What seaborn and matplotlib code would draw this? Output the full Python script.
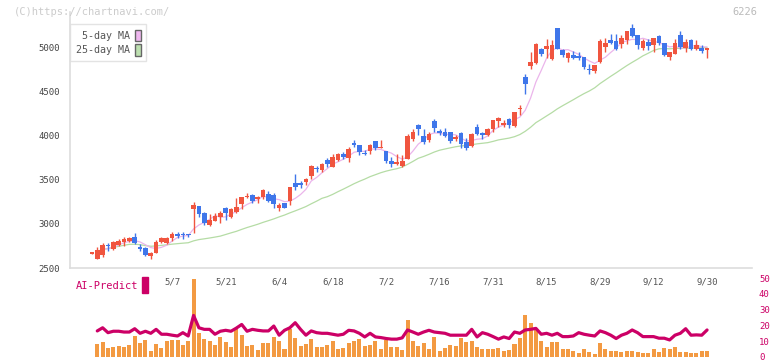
"""Candlestick chart with 5/25-day moving averages and an AI-Predict panel."""

import matplotlib

matplotlib.use("Agg")
import matplotlib.pyplot as plt
from matplotlib.patches import Patch, Rectangle
import numpy as np
import pandas as pd
import seaborn as sns

# ---------------------------------------------------------------------------
# Data
# ---------------------------------------------------------------------------
OPEN = [2662, 2605, 2647, 2760, 2720, 2760, 2790, 2805, 2847, 2737,
        2723, 2635, 2673, 2797, 2780, 2843, 2881, 2885, 2885, 3171,
        3205, 3126, 2986, 3031, 3082, 3175, 3082, 3137, 3224, 3300,
        3326, 3280, 3300, 3337, 3322, 3183, 3232, 3262, 3458, 3458,
        3476, 3537, 3635, 3608, 3729, 3646, 3729, 3797, 3748, 3914,
        3891, 3805, 3827, 3937, 3854, 3827, 3714, 3676, 3654, 3740,
        3956, 4117, 3993, 3948, 4163, 4050, 4035, 4035, 3956, 4027,
        3922, 3880, 4099, 4031, 4004, 4080, 4167, 4125, 4185, 4106,
        4304, 4660, 4790, 4823, 4985, 4985, 4864, 5215, 4974, 4883,
        4910, 4905, 4891, 4759, 4728, 4834, 5004, 5079, 5068, 5041,
        5079, 5215, 5136, 4996, 5060, 5022, 5124, 5049, 4891, 4921,
        5136, 4996, 5079, 4985, 4992, 4974]
HIGH = [2668, 2734, 2780, 2780, 2805, 2828, 2847, 2851, 2892, 2767,
        2734, 2681, 2817, 2851, 2855, 2907, 2911, 2911, 2890, 3246,
        3205, 3137, 3111, 3126, 3141, 3194, 3175, 3288, 3307, 3352,
        3337, 3314, 3394, 3371, 3345, 3232, 3232, 3420, 3563, 3484,
        3522, 3665, 3654, 3684, 3748, 3797, 3805, 3816, 3872, 3948,
        3891, 3842, 3910, 3940, 3948, 3827, 3759, 3786, 3778, 4023,
        4069, 4129, 4069, 4042, 4189, 4080, 4088, 4035, 4004, 4039,
        3978, 4031, 4129, 4042, 4091, 4182, 4212, 4182, 4200, 4268,
        4344, 4694, 4947, 5049, 4997, 5091, 5079, 5215, 4985, 4951,
        4958, 4947, 4891, 4808, 4804, 5098, 5102, 5155, 5147, 5143,
        5185, 5260, 5136, 5090, 5090, 5109, 5136, 5049, 4947, 5098,
        5181, 5090, 5098, 5079, 5022, 4992]
LOW = [2662, 2605, 2628, 2692, 2703, 2749, 2749, 2797, 2771, 2692,
       2639, 2605, 2666, 2780, 2771, 2805, 2836, 2832, 2850, 2892,
       3082, 2986, 2975, 3028, 3005, 3043, 3071, 3126, 3164, 3288,
       3239, 3239, 3280, 3246, 3183, 3149, 3175, 3213, 3382, 3401,
       3439, 3503, 3590, 3590, 3639, 3639, 3714, 3740, 3703, 3872,
       3778, 3778, 3789, 3842, 3854, 3684, 3646, 3665, 3646, 3740,
       3937, 4004, 3902, 3929, 4042, 4004, 3986, 3918, 3937, 3857,
       3835, 3872, 4004, 3959, 3993, 4042, 4099, 4099, 4091, 4099,
       4231, 4468, 4751, 4816, 4903, 4883, 4853, 4985, 4891, 4834,
       4864, 4853, 4759, 4694, 4709, 4823, 4947, 5041, 4974, 4994,
       5041, 5118, 4985, 4966, 4974, 4947, 5022, 4902, 4853, 4921,
       4985, 4947, 4966, 4974, 4936, 4883]
CLOSE = [2668, 2705, 2760, 2745, 2790, 2805, 2828, 2843, 2780, 2720,
         2647, 2666, 2794, 2843, 2843, 2885, 2867, 2873, 2873, 3213,
         3111, 3013, 3043, 3088, 3126, 3126, 3167, 3194, 3300, 3314,
         3262, 3300, 3382, 3258, 3220, 3213, 3183, 3413, 3413, 3439,
         3507, 3654, 3616, 3676, 3676, 3759, 3789, 3763, 3846, 3899,
         3812, 3786, 3891, 3854, 3872, 3710, 3676, 3699, 3710, 3993,
         4042, 4069, 3933, 4016, 4091, 4031, 3993, 3941, 3986, 3906,
         3865, 4023, 4016, 4012, 4072, 4174, 4204, 4144, 4117, 4265,
         4318, 4586, 4834, 5034, 4921, 5011, 5022, 4985, 4909, 4940,
         4883, 4883, 4777, 4740, 4804, 5071, 5049, 5049, 4985, 5106,
         5181, 5132, 5026, 5068, 5011, 5109, 5049, 4909, 4947, 5049,
         5004, 5064, 4985, 5022, 4955, 4992]

# lower panel starts at the second session
VOLUME = [8.3, 9.6, 5.8, 6.5, 7.1, 6.5, 7.7, 13.3, 9.0, 10.8,
          4.0, 8.3, 5.8, 10.2, 10.8, 10.8, 7.7, 10.2, 49.6, 15.2,
          11.5, 10.2, 7.7, 12.7, 9.6, 6.5, 17.7, 14.0, 7.1, 7.7,
          4.6, 9.0, 9.0, 12.7, 10.2, 5.2, 17.7, 12.1, 7.1, 8.3,
          11.5, 6.5, 6.5, 7.7, 10.2, 5.2, 5.8, 9.0, 10.2, 11.5,
          7.1, 7.7, 10.2, 5.2, 10.8, 6.5, 6.5, 4.6, 23.3, 10.2,
          7.1, 9.0, 5.2, 12.7, 4.0, 5.8, 7.7, 7.1, 12.1, 9.6,
          10.2, 6.5, 5.2, 5.2, 5.2, 5.8, 4.0, 4.6, 8.3, 12.1,
          26.5, 21.5, 17.1, 10.2, 6.5, 9.6, 9.6, 5.2, 5.2, 4.0,
          2.7, 5.2, 3.3, 2.1, 8.8, 5.2, 4.0, 4.0, 3.3, 4.0,
          4.0, 3.3, 2.7, 2.7, 5.2, 3.3, 5.8, 5.2, 6.5, 3.3,
          3.3, 2.7, 2.7, 4.0, 4.0]
AI_PREDICT = [16.5, 18.5, 15.4, 16.3, 16.3, 15.8, 15.8, 17.9, 15.0, 16.3,
              15.0, 17.5, 14.4, 14.4, 13.8, 13.3, 15.4, 13.3, 26.3, 18.5,
              17.5, 17.5, 14.4, 16.3, 16.9, 16.3, 18.3, 20.6, 16.3, 17.5,
              16.9, 16.5, 16.5, 19.6, 13.8, 16.9, 18.5, 21.7, 17.5, 13.8,
              16.5, 15.4, 15.0, 15.0, 14.4, 13.8, 14.4, 16.9, 16.5, 15.0,
              12.7, 15.0, 12.7, 12.3, 11.7, 11.3, 11.3, 12.1, 17.1, 15.8,
              14.4, 15.8, 16.9, 15.8, 15.4, 15.0, 13.8, 13.8, 13.8, 13.8,
              17.5, 12.7, 15.4, 14.4, 12.9, 11.3, 12.7, 11.7, 15.8, 15.0,
              17.1, 17.5, 18.1, 14.4, 15.0, 13.8, 15.0, 12.9, 12.9, 13.3,
              15.4, 14.4, 13.8, 13.3, 16.5, 15.4, 13.8, 11.7, 13.8, 15.0,
              17.1, 15.4, 12.9, 12.9, 12.9, 11.9, 11.9, 10.8, 13.8, 15.0,
              17.9, 13.8, 14.0, 13.8, 17.1]

DATE_LABELS = ["5/7", "5/21", "6/4", "6/18", "7/2", "7/16", "7/31",
               "8/15", "8/29", "9/12", "9/30"]
DATE_POS = [15, 25, 35, 45, 55, 65, 75, 85, 95, 105, 115]
PRICE_TICKS = [2500, 3000, 3500, 4000, 4500, 5000]
AI_TICKS = [0, 10, 20, 30, 40, 50]

# ---------------------------------------------------------------------------
# Style
# ---------------------------------------------------------------------------
sns.set_style("white")
plt.rcParams["font.family"] = ["DejaVu Sans Mono", "DejaVu Sans"]

UP, DOWN = "#f0553f", "#3f76ea"
MA5_C, MA25_C = "#ebb5eb", "#b5dca5"
VOL_C, AI_C = "#f39a42", "#cc0066"
GRID_C, TEXT_C = "#dddddd", "#555555"

df = pd.DataFrame({"open": OPEN, "high": HIGH, "low": LOW, "close": CLOSE})
df["idx"] = np.arange(len(df))
df["ma5"] = df["close"].rolling(5, min_periods=1).mean()
df["ma25"] = df["close"].rolling(25, min_periods=1).mean()
colors = np.where(df["close"] >= df["open"], UP, DOWN)

XLIM = (-4.1, 123.4)
W, H = 772, 361

fig = plt.figure(figsize=(W / 100, H / 100), dpi=100)
ax = fig.add_axes([70 / W, 93 / H, 682 / W, 256 / H])
axv = fig.add_axes([70 / W, 4 / H, 682 / W, 79 / H])

# ---------------------------------------------------------------------------
# Price panel
# ---------------------------------------------------------------------------
sub = df.iloc[1:]
sns.lineplot(x=sub["idx"], y=sub["ma25"], color=MA25_C, linewidth=0.9,
             ax=ax, zorder=1)
sns.lineplot(x=sub["idx"], y=sub["ma5"], color=MA5_C, linewidth=0.9,
             ax=ax, zorder=1)

ax.vlines(df["idx"], df["low"], df["high"], colors=colors, linewidth=1.0,
          zorder=2)
body = np.maximum((df["close"] - df["open"]).abs(), 14)
ax.bar(df["idx"], body, bottom=np.minimum(df["open"], df["close"]),
       width=0.87, color=colors, linewidth=0, zorder=3)

ax.set_xlim(XLIM)
ax.set_ylim(2500, 5400)
ax.set_xticks(np.linspace(XLIM[0], XLIM[1], 12)[1:])
ax.set_yticks(PRICE_TICKS)
ax.set_xlabel("")
ax.set_ylabel("")
for side in ("top", "right"):
    ax.spines[side].set_visible(False)
for side in ("left", "bottom"):
    ax.spines[side].set_color(GRID_C)
    ax.spines[side].set_linewidth(1.2)
ax.tick_params(axis="x", direction="inout", length=8, width=1.2,
               color=GRID_C, labelbottom=False)
ax.tick_params(axis="y", direction="inout", length=8, width=1.0,
               color=GRID_C, labelsize=6.5, labelcolor="#444444", pad=3)

handles = [Patch(facecolor="#f0b8f0", edgecolor="#666666", label=" 5-day MA"),
           Patch(facecolor="#bde0b0", edgecolor="#666666", label="25-day MA")]
leg = ax.legend(handles=handles, loc="upper left", bbox_to_anchor=(0.0, 0.953),
                borderaxespad=0, markerfirst=False, frameon=True,
                fancybox=False, edgecolor=GRID_C, fontsize=7.2,
                handlelength=0.6, handleheight=1.4, labelspacing=0.3,
                handletextpad=0.5, borderpad=0.55, labelcolor=TEXT_C)
leg.get_frame().set_linewidth(1.0)

# ---------------------------------------------------------------------------
# AI-Predict panel
# ---------------------------------------------------------------------------
vidx = np.arange(1, len(VOLUME) + 1)
axv.bar(vidx, VOLUME, width=0.75, color=VOL_C, linewidth=0, zorder=1)
sns.lineplot(x=vidx, y=AI_PREDICT, color=AI_C, linewidth=2.3, ax=axv,
             zorder=2)
axv.set_xlim(XLIM)
axv.set_ylim(0, 50)
axv.set_xticks([])
axv.set_yticks(AI_TICKS)
axv.yaxis.tick_right()
axv.tick_params(axis="y", length=0, labelsize=6.5, labelcolor=AI_C, pad=5)
axv.set_xlabel("")
axv.set_ylabel("")
for s in axv.spines.values():
    s.set_visible(False)

for lab, pos in zip(DATE_LABELS, DATE_POS):
    axv.text(pos, 47.7, lab, ha="center", va="center", fontsize=6.5,
             color=TEXT_C)
axv.text(-3.0, 45, "AI-Predict", ha="left", va="center", fontsize=7.5,
         color=AI_C)
axv.add_patch(Rectangle((9.35, 40.6), 1.15, 10, color=AI_C, clip_on=False))

fig.text(14 / W, 1 - 12 / H, "(C)https://chartnavi.com/", fontsize=7.5,
         color="#cccccc", va="center")
fig.text(757 / W, 1 - 12 / H, "6226", fontsize=7.5, color="#bbbbbb",
         ha="right", va="center")

fig.savefig("out.png", dpi=100)
plt.close(fig)
